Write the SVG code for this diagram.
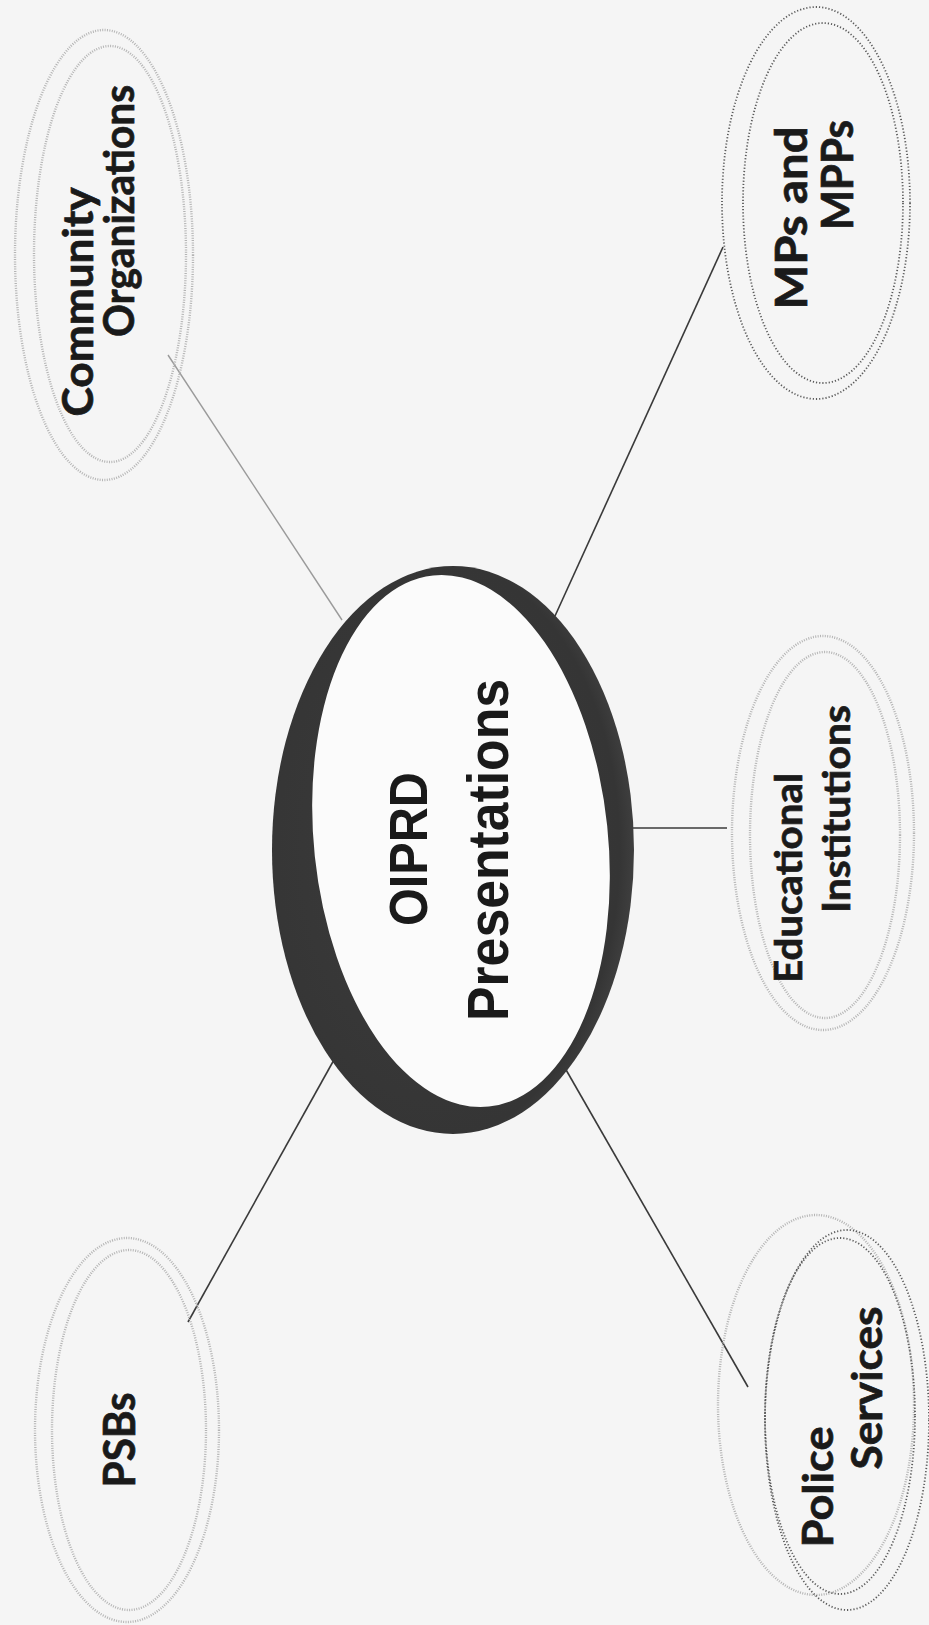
<svg xmlns="http://www.w3.org/2000/svg" width="929" height="1625" viewBox="0 0 929 1625">
  <defs>
    <style>
      .lbl { font-family: Lato, "Open Sans", "Liberation Sans", sans-serif; font-weight: 700; fill: #1a1a1a; stroke: #1a1a1a; stroke-width: 0.7; text-anchor: middle; }
      .ctr { font-family: "Liberation Sans", Arial, sans-serif; font-weight: 700; fill: #1a1a1a; text-anchor: middle; }
      .faint { fill: none; stroke: #b4b4b4; stroke-width: 2.4; stroke-dasharray: 1 1.4; }
      .dark { fill: none; stroke: #5a5a5a; stroke-width: 1.8; stroke-dasharray: 1.2 2; }
      .conn { stroke: #3a3a3a; stroke-width: 1.6; fill: none; }
      .connl { stroke: #9a9a9a; stroke-width: 1.4; fill: none; }
    </style>
    <radialGradient id="ringG" cx="0.45" cy="0.5" r="0.6">
      <stop offset="0" stop-color="#3c3c3c"/>
      <stop offset="0.85" stop-color="#353535"/>
      <stop offset="1" stop-color="#4a4a4a"/>
    </radialGradient>
  </defs>
  <rect x="0" y="0" width="929" height="1625" fill="#f5f5f5"/>

  <g id="connectors">
    <line class="connl" x1="168" y1="355" x2="342" y2="620"/>
    <line class="conn" x1="723" y1="247" x2="555" y2="616"/>
    <line class="conn" x1="620" y1="828" x2="727" y2="828"/>
    <line class="conn" x1="188" y1="1322" x2="335" y2="1058"/>
    <line class="conn" x1="748" y1="1387" x2="565" y2="1068"/>
  </g>

  <g id="center">
    <ellipse cx="453" cy="850" rx="181" ry="284" fill="url(#ringG)"/>
    <ellipse cx="461" cy="841" rx="147" ry="267" transform="rotate(-6 461 841)" fill="#fbfbfb"/>
    <text class="ctr" font-size="54" transform="translate(427 849) rotate(-90)" textLength="154" lengthAdjust="spacingAndGlyphs">OIPRD</text>
    <text class="ctr" font-size="58" transform="translate(508 850) rotate(-90)" textLength="342" lengthAdjust="spacingAndGlyphs">Presentations</text>
  </g>

  <g id="community">
    <ellipse class="faint" cx="104" cy="255" rx="89" ry="225"/>
    <ellipse class="faint" cx="110" cy="254" rx="76" ry="208"/>
    <text class="lbl" font-size="42" transform="translate(93 302) rotate(-90)" textLength="229" lengthAdjust="spacingAndGlyphs">Community</text>
    <text class="lbl" font-size="42" transform="translate(134 211) rotate(-90)" textLength="252" lengthAdjust="spacingAndGlyphs">Organizations</text>
  </g>

  <g id="mps">
    <ellipse class="dark" cx="816" cy="203" rx="94" ry="196"/>
    <ellipse class="dark" cx="823" cy="203" rx="80" ry="180"/>
    <text class="lbl" font-size="44" transform="translate(807 218) rotate(-90)" textLength="183" lengthAdjust="spacingAndGlyphs">MPs and</text>
    <text class="lbl" font-size="44" transform="translate(853 175) rotate(-90)" textLength="110" lengthAdjust="spacingAndGlyphs">MPPs</text>
  </g>

  <g id="educational">
    <ellipse class="faint" cx="823" cy="833" rx="91" ry="197"/>
    <ellipse class="faint" cx="825" cy="835" rx="75" ry="183"/>
    <text class="lbl" font-size="38" transform="translate(802 878) rotate(-90)" textLength="210" lengthAdjust="spacingAndGlyphs">Educational</text>
    <text class="lbl" font-size="38" transform="translate(850 809) rotate(-90)" textLength="208" lengthAdjust="spacingAndGlyphs">Institutions</text>
  </g>

  <g id="psbs">
    <ellipse class="faint" cx="127" cy="1430" rx="92" ry="192"/>
    <ellipse class="faint" cx="129" cy="1430" rx="77" ry="180"/>
    <text class="lbl" font-size="44" transform="translate(135 1440) rotate(-90)" textLength="95" lengthAdjust="spacingAndGlyphs">PSBs</text>
  </g>

  <g id="police">
    <ellipse class="faint" cx="816" cy="1405" rx="98" ry="190"/>
    <ellipse class="dark" cx="847" cy="1420" rx="82" ry="190"/>
    <ellipse class="dark" cx="840" cy="1416" rx="75" ry="178"/>
    <text class="lbl" font-size="42" transform="translate(833 1487) rotate(-90)" textLength="121" lengthAdjust="spacingAndGlyphs">Police</text>
    <text class="lbl" font-size="42" transform="translate(882 1388) rotate(-90)" textLength="163" lengthAdjust="spacingAndGlyphs">Services</text>
  </g>
</svg>
